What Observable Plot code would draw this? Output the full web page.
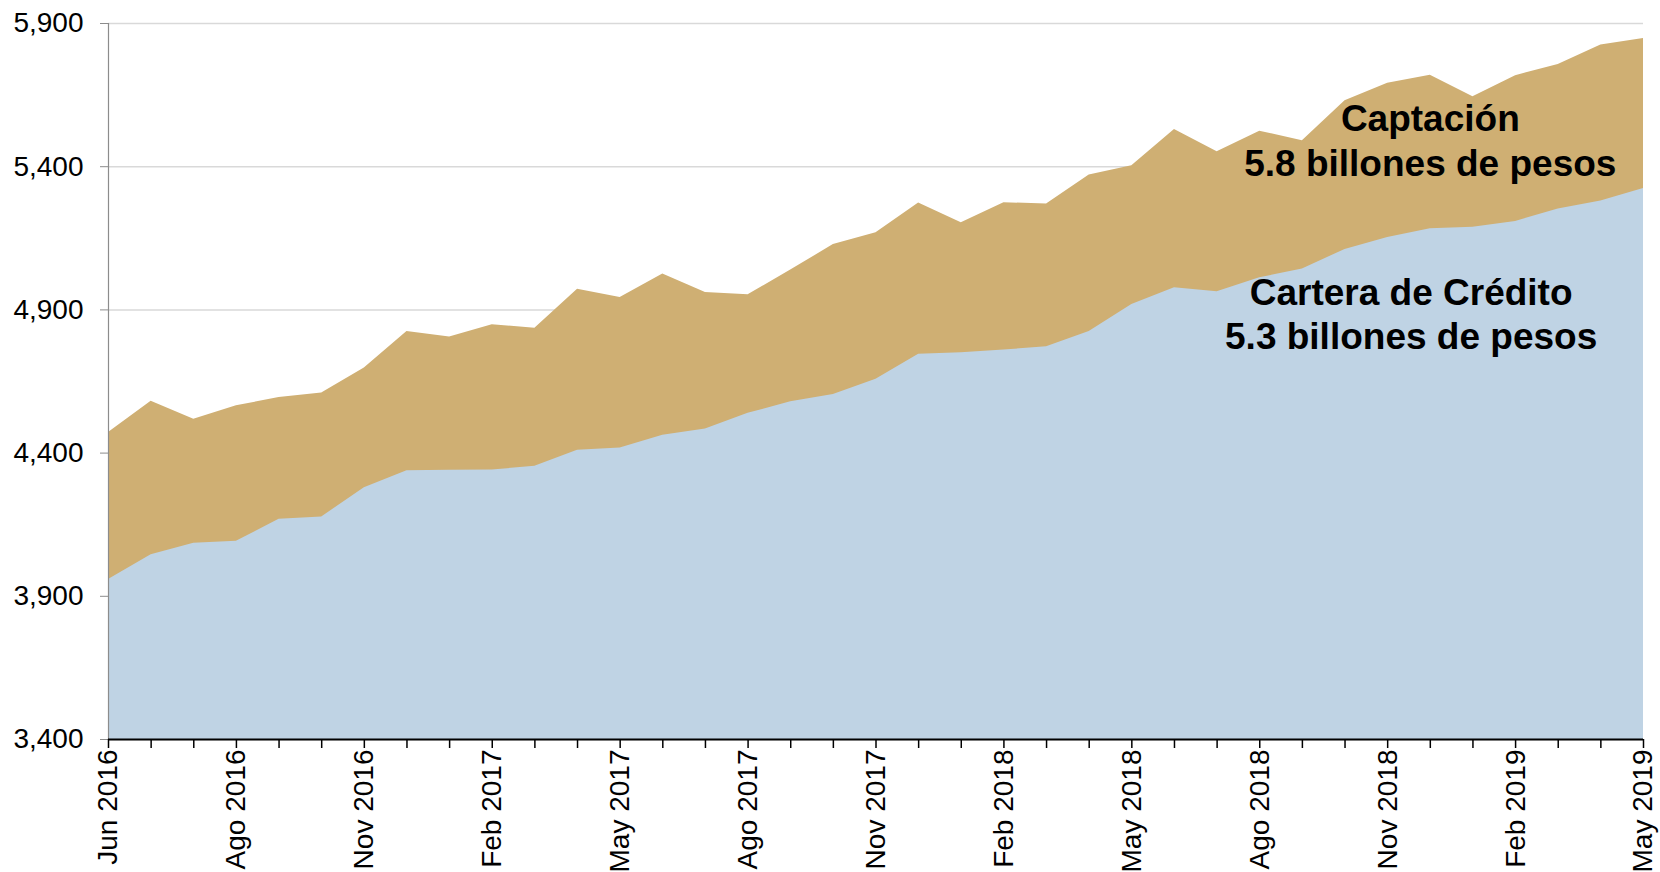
<!DOCTYPE html>
<html>
<head>
<meta charset="utf-8">
<script src="https://cdn.jsdelivr.net/npm/d3@7"></script>
<script src="https://cdn.jsdelivr.net/npm/@observablehq/plot@0.6"></script>
<style>
  html, body { margin: 0; padding: 0; background: #ffffff; }
  #chart { width: 1660px; height: 872px; }
</style>
</head>
<body>
<div id="chart"></div>
<script>
// Month index 0..36, labels every 3 months
const tickLabels = ["Jun 2016","Ago 2016","Nov 2016","Feb 2017","May 2017","Ago 2017","Nov 2017","Feb 2018","May 2018","Ago 2018","Nov 2018","Feb 2019","May 2019"];
const captacion = [4472,4581,4518,4565,4594,4610,4697,4825,4805,4848,4836,4972,4943,5025,4961,4953,5039,5128,5169,5273,5204,5274,5270,5371,5403,5530,5452,5524,5491,5630,5691,5719,5644,5718,5757,5825,5848];
const cartera = [3959,4045,4085,4092,4169,4177,4279,4338,4340,4341,4354,4410,4418,4462,4484,4539,4579,4605,4658,4745,4750,4760,4771,4825,4919,4977,4963,5012,5043,5111,5153,5183,5189,5209,5252,5280,5324];
const yTicks = [3400,3900,4400,4900,5400,5900];
const annotationText = ["Captación\n5.8 billones de pesos", "Cartera de Crédito\n5.3 billones de pesos"];
const annotationX = [31.0, 30.55];
const annotationY = [5368, 4763];

const months = d3.range(captacion.length);
const labelIdx = tickLabels.map((_, k) => k * 3);
const base = yTicks[0];

const chart = Plot.plot({
  width: 1660,
  height: 872,
  marginTop: 23,
  marginBottom: 133,
  marginLeft: 108,
  marginRight: 17,
  style: {fontFamily: "'Liberation Sans', Arial, sans-serif", fontSize: "28px", color: "#000", background: "#fff", overflow: "visible"},
  x: {type: "linear", domain: [0, months.length - 1]},
  y: {domain: [yTicks[0], yTicks[yTicks.length - 1]]},
  marks: [
    Plot.gridY(yTicks, {stroke: "#d9d9d9", strokeOpacity: 1, strokeWidth: 1.5}),
    Plot.areaY(months, {x: i => i, y1: base, y2: i => captacion[i], fill: "#cfaf73", curve: "linear"}),
    Plot.areaY(months, {x: i => i, y1: base, y2: i => cartera[i], fill: "#bfd3e4", curve: "linear"}),
    Plot.ruleX([0], {stroke: "#8c8c8c", strokeWidth: 1.2}),
    Plot.axisY(yTicks, {tickSize: 8, tickPadding: 17, stroke: "#8c8c8c", tickFormat: d3.format(","), fontSize: 28, fill: "#000", label: null}),
    Plot.ruleY([base], {stroke: "#000", strokeWidth: 2}),
    Plot.axisX(months, {tickSize: 9, stroke: "#000", strokeWidth: 1.5, tickFormat: () => "", label: null}),
    Plot.axisX(labelIdx, {tickSize: 0, tickPadding: 10, tickRotate: -90, textAnchor: "end", lineAnchor: "middle", tickFormat: i => tickLabels[i / 3], fontSize: 28, fill: "#000", label: null}),
    Plot.text(annotationText, {x: (d, k) => annotationX[k], y: (d, k) => annotationY[k], text: d => d, lineAnchor: "bottom", textAnchor: "middle", lineHeight: 1.2, fontSize: 37, fontWeight: "bold", fill: "#000"})
  ]
});
document.getElementById("chart").appendChild(chart);
</script>
</body>
</html>
